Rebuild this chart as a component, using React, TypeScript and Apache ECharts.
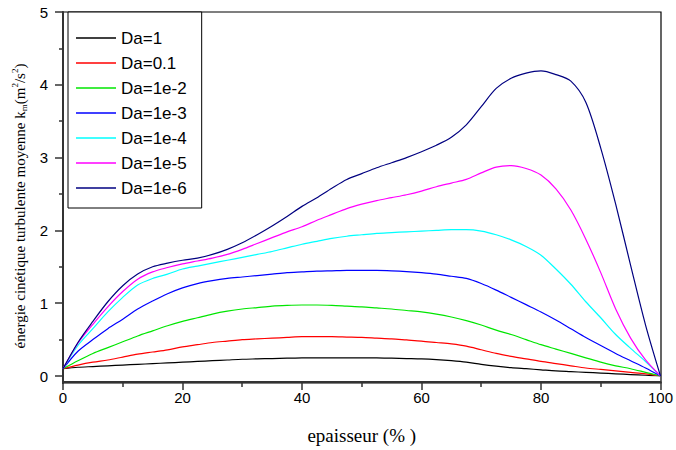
import React, { useEffect, useRef } from "react";
import * as echarts from "echarts";

const xValues = [0, 2.5, 5, 7.5, 10, 12.5, 15, 17.5, 20, 22.5, 25, 27.5, 30, 32.5, 35, 37.5, 40, 42.5, 45, 47.5, 50, 52.5, 55, 57.5, 60, 62.5, 65, 67.5, 70, 72.5, 75, 77.5, 80, 82.5, 85, 87.5, 90, 92.5, 95, 97.5, 100];

const da1 = [0.1, 0.12, 0.13, 0.14, 0.15, 0.16, 0.17, 0.18, 0.19, 0.2, 0.21, 0.22, 0.23, 0.235, 0.24, 0.245, 0.25, 0.25, 0.25, 0.25, 0.25, 0.248, 0.245, 0.24, 0.235, 0.225, 0.21, 0.19, 0.16, 0.135, 0.115, 0.1, 0.085, 0.07, 0.06, 0.05, 0.04, 0.03, 0.02, 0.01, 0];
const da01 = [0.1, 0.15, 0.19, 0.22, 0.26, 0.3, 0.33, 0.36, 0.4, 0.43, 0.46, 0.48, 0.5, 0.51, 0.52, 0.53, 0.54, 0.54, 0.54, 0.535, 0.53, 0.52, 0.51, 0.495, 0.48, 0.46, 0.44, 0.41, 0.36, 0.31, 0.27, 0.235, 0.2, 0.17, 0.14, 0.11, 0.09, 0.07, 0.05, 0.03, 0];
const da1e2 = [0.1, 0.21, 0.31, 0.39, 0.47, 0.55, 0.62, 0.69, 0.75, 0.8, 0.85, 0.89, 0.92, 0.94, 0.96, 0.97, 0.975, 0.975, 0.97, 0.96, 0.95, 0.935, 0.92, 0.9, 0.88, 0.85, 0.81, 0.76, 0.7, 0.63, 0.57, 0.5, 0.43, 0.37, 0.31, 0.25, 0.19, 0.14, 0.1, 0.05, 0];
const da1e3 = [0.1, 0.34, 0.5, 0.65, 0.78, 0.92, 1.03, 1.13, 1.21, 1.27, 1.31, 1.34, 1.36, 1.38, 1.4, 1.42, 1.43, 1.44, 1.445, 1.45, 1.45, 1.45, 1.445, 1.435, 1.42, 1.4, 1.37, 1.34, 1.27, 1.18, 1.08, 0.98, 0.88, 0.77, 0.65, 0.53, 0.42, 0.31, 0.21, 0.11, 0];
const da1e4 = [0.1, 0.42, 0.65, 0.88, 1.08, 1.25, 1.34, 1.4, 1.47, 1.51, 1.55, 1.59, 1.63, 1.67, 1.71, 1.76, 1.81, 1.85, 1.89, 1.92, 1.94, 1.96, 1.97, 1.98, 1.99, 2.0, 2.01, 2.01, 1.99, 1.94, 1.87, 1.78, 1.66, 1.47, 1.26, 1.02, 0.8, 0.57, 0.38, 0.2, 0];
const da1e5 = [0.1, 0.45, 0.71, 0.95, 1.16, 1.33, 1.43, 1.49, 1.54, 1.58, 1.62, 1.67, 1.74, 1.82, 1.9, 1.98, 2.05, 2.14, 2.22, 2.3, 2.36, 2.41, 2.45, 2.49, 2.54, 2.6, 2.65, 2.7, 2.79, 2.87, 2.89, 2.85, 2.76, 2.57, 2.28, 1.88, 1.42, 0.92, 0.52, 0.22, 0];
const da1e6 = [0.1, 0.46, 0.75, 1.02, 1.24, 1.4, 1.5, 1.55, 1.59, 1.62, 1.67, 1.74, 1.83, 1.94, 2.06, 2.19, 2.33, 2.45, 2.58, 2.7, 2.78, 2.86, 2.93, 3.0, 3.08, 3.17, 3.28, 3.45, 3.7, 3.95, 4.09, 4.16, 4.19, 4.14, 4.05, 3.76, 3.13, 2.36, 1.52, 0.7, 0];

const seriesNames = ["Da=1", "Da=0.1", "Da=1e-2", "Da=1e-3", "Da=1e-4", "Da=1e-5", "Da=1e-6"];
const seriesValues = [da1, da01, da1e2, da1e3, da1e4, da1e5, da1e6];
const seriesColors = ["#000000", "#ff0000", "#00e600", "#0000ff", "#00ffff", "#ff00ff", "#000080"];

const SANS = "'Liberation Sans', Arial, sans-serif";
const SERIF = "'Liberation Serif', 'Times New Roman', serif";

export default function App() {
  const ref = useRef<HTMLDivElement>(null);
  useEffect(() => {
    if (!ref.current) return;
    const chart = echarts.init(ref.current, undefined, { renderer: "svg" });
    const axisColor = "#333";
    chart.setOption({
      animation: false,
      backgroundColor: "#ffffff",
      grid: { left: 63, right: 15, top: 12, bottom: 73, containLabel: false },
      legend: {
        left: 68,
        top: 12,
        orient: "vertical",
        padding: [17, 15, 11, 8],
        itemGap: 7,
        itemWidth: 40,
        itemHeight: 1.5,
        icon: "rect",
        backgroundColor: "#ffffff",
        borderColor: "#000",
        borderWidth: 1,
        textStyle: { color: "#000", fontSize: 17, fontFamily: SANS, lineHeight: 18 },
        data: seriesNames,
      },
      xAxis: {
        type: "value",
        min: 0,
        max: 100,
        interval: 20,
        offset: 6,
        axisLine: { show: true, onZero: false, lineStyle: { color: axisColor, width: 2 } },
        axisTick: { show: true, length: 8, lineStyle: { color: axisColor, width: 1.5 } },
        minorTick: { show: true, splitNumber: 2, length: 5, lineStyle: { color: axisColor, width: 1.5 } },
        splitLine: { show: false },
        minorSplitLine: { show: false },
        axisLabel: { color: "#000", fontSize: 15, fontFamily: SANS, margin: 8 },
        name: "epaisseur (% )",
        nameLocation: "middle",
        nameGap: 44,
        nameTextStyle: { color: "#000", fontSize: 19, fontFamily: SERIF },
      },
      yAxis: {
        type: "value",
        min: 0,
        max: 5,
        interval: 1,
        axisLine: { show: true, onZero: false, lineStyle: { color: axisColor, width: 2 } },
        axisTick: { show: true, length: 8, lineStyle: { color: axisColor, width: 1.5 } },
        minorTick: { show: true, splitNumber: 2, length: 4, lineStyle: { color: axisColor, width: 1.5 } },
        splitLine: { show: false },
        minorSplitLine: { show: false },
        axisLabel: { color: "#000", fontSize: 15, fontFamily: SANS, margin: 15 },
        name: "{t|énergie cinétique turbulente moyenne k}{s|m}{t|(m}{p|2}{t|/s}{p|2}{t|)}",
        nameLocation: "middle",
        nameGap: 34,
        nameTextStyle: {
          color: "#000",
          fontSize: 15,
          fontFamily: SERIF,
          padding: [0, 24, 0, 0],
          rich: {
            t: { fontSize: 15, fontFamily: SERIF, color: "#000", lineHeight: 18 },
            s: { fontSize: 9, fontFamily: SERIF, color: "#000", verticalAlign: "bottom" },
            p: { fontSize: 9, fontFamily: SERIF, color: "#000", verticalAlign: "top" },
          },
        },
      },
      graphic: [
        {
          type: "rect",
          z: 0,
          silent: true,
          shape: { x: 63, y: 12, width: 598, height: 371 },
          style: { fill: "none", stroke: "#000", lineWidth: 1.2 },
        },
        {
          type: "line",
          silent: true,
          shape: { x1: 63, y1: 376, x2: 63, y2: 384 },
          style: { stroke: axisColor, lineWidth: 2 },
        },
      ],
      series: seriesNames.map((name, i) => ({
        name,
        type: "line",
        data: xValues.map((x, j) => [x, seriesValues[i][j]]),
        smooth: 0.3,
        symbol: "none",
        showSymbol: false,
        lineStyle: { color: seriesColors[i], width: 1.2 },
        itemStyle: { color: seriesColors[i] },
        z: 2 + i,
      })),
    });
    return () => chart.dispose();
  }, []);
  return <div ref={ref} style={{ position: "fixed", left: 0, top: 0, width: 676, height: 450 }} />;
}
